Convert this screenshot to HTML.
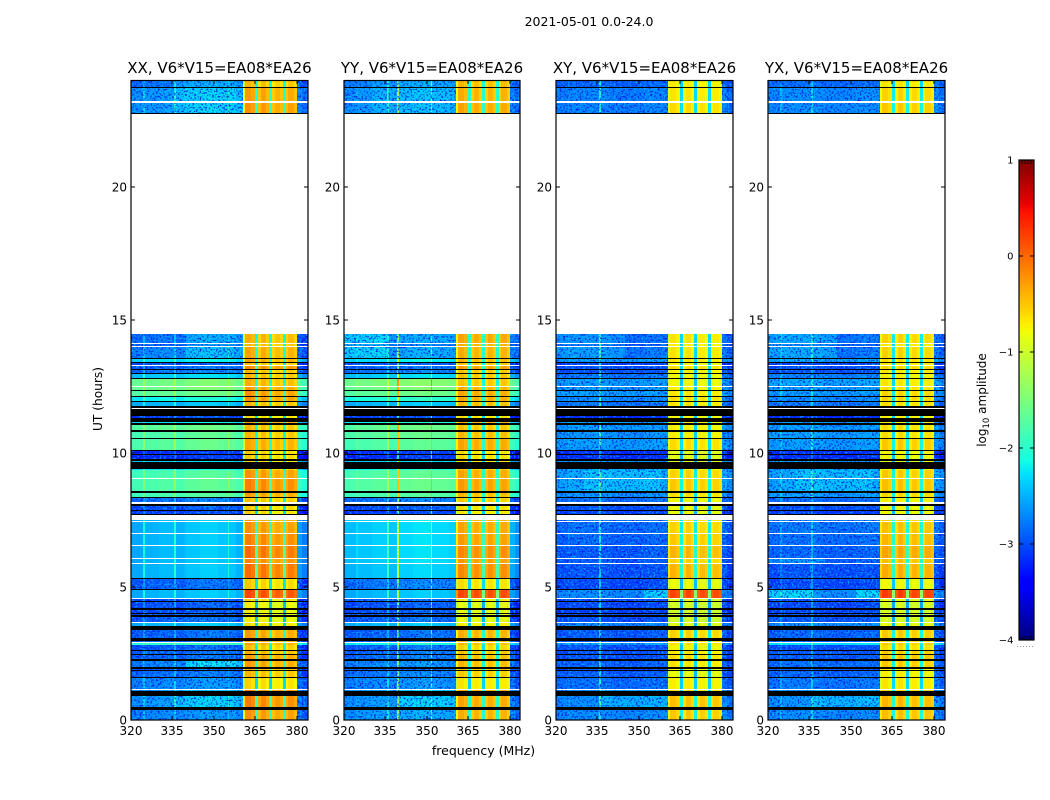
<!DOCTYPE html>
<html>
<head>
<meta charset="utf-8">
<title>Waterfall V6*V15</title>
<style>
html,body{margin:0;padding:0;background:#fff;}
svg{display:block;}
text{font-family:"DejaVu Sans","Liberation Sans",sans-serif;fill:#000;}
</style>
</head>
<body>
<svg id="chart" xmlns="http://www.w3.org/2000/svg" width="1050" height="800" viewBox="0 0 1050 800">
  <defs>
    <filter id="grainDark" x="0" y="0" width="100%" height="100%" color-interpolation-filters="sRGB">
      <feTurbulence type="fractalNoise" baseFrequency="0.55" numOctaves="1" seed="7" result="n"/>
      <feColorMatrix in="n" type="matrix" values="0 0 0 0 0  0 0 0 0 0  0 0 0 0 0  6 0 0 0 -3" result="m"/>
      <feComposite in="SourceGraphic" in2="m" operator="in"/>
    </filter>
    <filter id="grainLight" x="0" y="0" width="100%" height="100%" color-interpolation-filters="sRGB">
      <feTurbulence type="fractalNoise" baseFrequency="0.5" numOctaves="1" seed="23" result="n"/>
      <feColorMatrix in="n" type="matrix" values="0 0 0 0 0  0 0 0 0 0  0 0 0 0 0  0 6 0 0 -3.2" result="m"/>
      <feComposite in="SourceGraphic" in2="m" operator="in"/>
    </filter>
  </defs>
  <text x="589" y="26" font-size="12.5" text-anchor="middle">2021-05-01 0.0-24.0</text>
  <text transform="translate(102,399) rotate(-90)" font-size="12.2" text-anchor="middle">UT (hours)</text>
  <text x="483.5" y="755" font-size="12.5" text-anchor="middle">frequency (MHz)</text>
  <text transform="translate(986,400) rotate(-90)" font-size="12" text-anchor="middle">log<tspan font-size="8.5" dy="3">10</tspan><tspan dy="-3"> amplitude</tspan></text>
  <g id="panels"></g>
  <g id="colorbar"></g>
</svg>
<script>
// ---- time rows (UT hours, top to bottom) ----
const utEdges = [24.00,23.74,23.70,23.21,23.14,22.76,22.73,14.48,
14.14,14.10,14.04,13.99,13.58,13.54,13.43,13.37,13.33,13.29,13.16,13.13,13.01,12.96,12.83,12.79,12.53,12.49,12.38,12.32,12.15,12.11,11.96,11.93,11.76,11.70,11.66,11.40,
11.31,11.19,11.12,11.06,10.86,10.80,10.59,10.54,10.14,10.11,9.98,9.94,9.79,9.73,9.66,9.41,9.36,9.08,9.04,8.59,8.53,8.36,8.33,8.16,8.10,8.03,7.88,7.84,7.73,7.67,7.50,
7.46,7.41,7.03,6.99,6.58,6.54,6.09,6.06,5.89,5.85,5.31,5.27,4.91,4.88,4.59,4.54,4.46,4.41,4.20,4.14,4.03,3.98,3.92,3.86,3.68,3.64,3.53,3.36,3.06,2.96,2.93,2.89,2.83,2.61,2.57,2.46,2.42,2.27,2.23,1.97,1.93,1.86,1.82,1.61,1.58,1.16,1.13,1.07,0.90,0.49,0.39,0.00];
// d = data, k = flagged (black), w = no data (white)
const rowKinds = "dkdwdkw"+"dwdwdkdkdwdkdkdkdwdkdkdkdkwk"+"dkdkdkdkdkdkdkdkddwdkdkdwkdkdkw"+"dwdwdwdwdw"+"dkdk"+"dw"+"dkdkdkdk"+"dw"+"dkdk"+"dw"+"d"+"dk"+"dkdkdkdkdk"+"dw"+"dkdk"+"d";

// ---- frequency channels (MHz) ----
const freqEdges = [320,324.4,325,330,335.6,336.4,339.3,340,345,351.4,352,355,355.6,358,360.4,361.2,363.5,364.8,366,367,369,369.9,371,372,374,374.9,376,377,379,380.1,382,384.2];
const freqBand = "llllllllllllllbbbbbbbbbbbbbbbll";

// ---- log10 amplitude per data row: quiet part of the band ----
const lowXX = [-2.8,-2.6,-2.6,
-2.8,-2.9,-2.7,-2.3,-3.0,-2.9,-2.8,-2.4,-1.6,-1.6,-1.7,-2.2,-2.5,
-3.1,-2.3,-1.7,-1.8,-1.75,-3.2,-3.2,-2.4,-2.3,-1.85,
-1.8,-1.85,-2.8,
-3.0,-3.1,-2.5,-2.5,-2.5,-2.5,-2.5,-2.5,-2.9,-2.5,-3.0,
-3.0,-3.05,-3.0,-2.9,-2.5,-2.9,-2.9,-2.0,-2.95,
-2.9,-2.9,-2.7,-2.9,-2.85,-2.7,-2.6,-2.6,-2.7];
const lowYY = [-2.7,-2.6,-2.6,
-2.6,-2.8,-2.6,-2.3,-3.0,-2.9,-2.8,-2.4,-1.55,-1.6,-1.7,-2.1,-2.5,
-3.1,-2.2,-1.7,-1.75,-1.8,-3.2,-3.2,-2.4,-2.2,-1.8,
-1.75,-1.85,-2.8,
-3.0,-3.1,-2.35,-2.4,-2.4,-2.4,-2.4,-2.45,-2.8,-2.5,-2.9,
-3.0,-3.0,-3.0,-2.9,-2.5,-2.9,-2.9,-2.2,-2.9,
-2.85,-2.85,-2.7,-2.85,-2.8,-2.7,-2.55,-2.6,-2.6];
const lowXY = [-2.9,-2.75,-2.75,
-2.85,-2.95,-2.8,-2.6,-3.1,-3.0,-3.0,-2.8,-2.6,-2.6,-2.6,-2.7,-2.8,
-3.2,-2.6,-2.6,-2.65,-2.6,-3.2,-3.2,-2.6,-2.6,-2.55,
-2.55,-2.65,-2.85,
-3.0,-3.1,-2.85,-2.85,-2.9,-2.95,-2.95,-3.0,-3.05,-2.7,-3.05,
-3.05,-3.1,-3.05,-3.0,-2.7,-2.95,-2.95,-2.55,-3.0,
-3.0,-3.0,-2.9,-3.0,-2.95,-2.85,-2.7,-2.7,-2.7];
const lowYX = [-2.85,-2.7,-2.7,
-2.8,-2.95,-2.8,-2.55,-3.1,-3.0,-3.0,-2.75,-2.55,-2.6,-2.6,-2.7,-2.8,
-3.2,-2.6,-2.6,-2.6,-2.6,-3.2,-3.2,-2.6,-2.6,-2.55,
-2.55,-2.6,-2.85,
-3.0,-3.1,-2.8,-2.8,-2.85,-2.9,-2.9,-3.0,-3.05,-2.65,-3.0,
-3.05,-3.05,-3.05,-2.95,-2.65,-2.9,-2.9,-2.3,-3.0,
-2.95,-2.95,-2.85,-2.95,-2.9,-2.8,-2.65,-2.65,-2.7];

// ---- log10 amplitude per data row: bright part of the band (360-380 MHz) ----
const highXX = [-.45,-.3,-.25,
-.4,-.45,-.35,-.35,-.5,-.2,-.45,-.45,-.4,-.3,-.25,-.25,-.45,
-.6,-.3,-.45,-.45,-.35,-.55,-.55,-.6,-.5,-.25,
-.15,-.3,-.5,
-.55,-.6,-.3,-.25,-.15,-.05,-.2,-.05,-.55,.15,-.6,
-.75,-.75,-.75,-.75,-.65,-.3,-.35,-.35,-.5,
-.4,-.3,-.3,-.4,-.45,-.6,-.15,-.15,-.25];
const highYY = [-.4,-.35,-.3,
-.3,-.35,-.35,-.4,-.45,-.25,-.45,-.45,-.45,-.35,-.3,-.3,-.4,
-.6,-.35,-.45,-.4,-.3,-.6,-.6,-.6,-.5,-.3,
-.25,-.4,-.5,
-.6,-.65,-.35,-.3,-.25,-.15,-.25,-.15,-.6,.2,-.65,
-.8,-.8,-.8,-.8,-.7,-.35,-.4,-.4,-.55,
-.45,-.4,-.4,-.45,-.5,-.65,-.3,-.3,-.35];
const highXY = [-.6,-.55,-.5,
-.55,-.6,-.55,-.55,-.65,-.5,-.6,-.65,-.65,-.6,-.55,-.5,-.55,
-.65,-.6,-.6,-.6,-.5,-.75,-.75,-.75,-.65,-.45,
-.4,-.5,-.65,
-.7,-.7,-.5,-.45,-.4,-.3,-.45,-.3,-.7,.3,-.75,
-.85,-.85,-.85,-.85,-.75,-.45,-.5,-.5,-.65,
-.55,-.5,-.55,-.7,-.7,-.6,-.5,-.35,-.4];
const highYX = [-.55,-.45,-.4,
-.45,-.55,-.45,-.5,-.55,-.45,-.55,-.6,-.55,-.5,-.45,-.45,-.5,
-.6,-.55,-.5,-.5,-.4,-.65,-.65,-.7,-.6,-.4,
-.35,-.45,-.6,
-.65,-.65,-.4,-.35,-.3,-.2,-.35,-.25,-.65,.35,-.7,
-.8,-.8,-.8,-.8,-.7,-.4,-.45,-.4,-.5,
-.4,-.35,-.4,-.55,-.6,-.55,-.4,-.3,-.35];

// ---- per-channel spectral offsets (log10) ----
const shapeXX = [-.05,.35,0,.05,.45,0,.05,.1,.15,.1,.1,.35,.1,0,-.5,.05,-.05,-1.7,-.2,0,-.15,-1.7,-.25,-.1,-.2,-1.7,-.2,-.05,-.2,-.1,-.25];
const shapeYY = [-.05,.1,0,.05,.5,0,1.3,.1,.15,1.4,.1,.1,.1,.05,-.45,0,-.1,-1.7,-.2,-.05,-.2,-1.7,-.2,-.05,-.2,-1.7,-.2,-.05,-.2,-.1,-.25];
const shapeXY = [0,.1,.05,.05,.75,.05,.05,0,0,0,.05,.1,.05,.05,-.35,-.1,-.2,-1.75,-.3,-.1,-.25,-1.75,-.3,-.15,-.25,-1.75,-.3,-.15,-.25,.05,-.1];
const shapeYX = [0,.3,.05,.05,.5,.05,.05,0,0,0,.05,.1,.05,.05,-.35,-.1,-.2,-1.75,-.3,-.1,-.25,-1.75,-.3,-.15,-.25,-1.75,-.3,-.15,-.25,.05,-.1];

// ---- localised amplitude enhancements: panel, UT low, UT high, MHz low, MHz high, log10 delta ----
const enhancements = [
  [0,22.7,24,335,360.4,.2],
  [0,13.5,14.5,340,360.4,.2],
  [0,.5,1.1,335,360.4,.2],
  [0,1.95,2.25,341,360.4,.35],
  [1,22.7,24,330,360.4,.1],
  [1,13.5,14.5,320,335.6,.3],
  [1,.5,1.1,340,360.4,.2],
  [2,13.5,14.5,320,345,.2],
  [2,8.5,9.4,332,358,.15],
  [2,4.6,4.9,352,360.4,.35],
  [2,.5,1.1,335,360.4,.2],
  [3,13.5,14.5,320,345,.25],
  [3,8.5,9.4,332,358,.15],
  [3,5.85,6.1,320,340,.25],
  [3,4.6,4.9,320,335.6,.35],
  [3,4.6,4.9,352,360.4,.35],
  [3,.5,1.1,335,360.4,.2]
];

// ---- axis ticks and labels ----
const panelNames = ["XX","YY","XY","YX"];
const panelTitles = ["XX, V6*V15=EA08*EA26","YY, V6*V15=EA08*EA26","XY, V6*V15=EA08*EA26","YX, V6*V15=EA08*EA26"];
const freqTicks = [320,335,350,365,380];
const utTicks = [0,5,10,15,20];
const colorTicks = [1,0,-1,-2,-3,-4];
const colorMinor = [0.2,0.4,0.6,0.8];

const lowSeries = [lowXX,lowYY,lowXY,lowYX];
const highSeries = [highXX,highYY,highXY,highYX];
const shapeSeries = [shapeXX,shapeYY,shapeXY,shapeYX];
const panelLeft = [131,344,556,768];
const panelRight = [308,520,733,945];

const SVGNS = "http://www.w3.org/2000/svg";
const PXPERMHZ = 2.76, TOP = 80, BOTTOM = 720;
const GRAIN_LEVEL = -2.5;
function yOfUT(h){ return BOTTOM - h*(BOTTOM-TOP)/24; }
function xOfFreq(p,f){ return Math.min(panelLeft[p]+(f-320)*PXPERMHZ, panelRight[p]); }
function yOfColor(v){ return 640-(v+4)*96; }
function enhancement(p,h,f){
  let d=0;
  enhancements.forEach(function(e){
    if(e[0]===p && h>=e[1] && h<=e[2] && f>=e[3] && f<=e[4]){ d+=e[5]; }
  });
  return d;
}

function piece(t,pts){
  for(let i=1;i<pts.length;i++){
    if(t<=pts[i][0]){
      const a=pts[i-1],b=pts[i];
      return a[1]+(b[1]-a[1])*(t-a[0])/(b[0]-a[0]);
    }
  }
  return pts[pts.length-1][1];
}
function jet(v){
  const t=Math.max(0,Math.min(1,(v+4)/5));
  const r=piece(t,[[0,0],[.35,0],[.66,1],[.89,1],[1,.5]]);
  const g=piece(t,[[0,0],[.125,0],[.375,1],[.64,1],[.91,0],[1,0]]);
  const b=piece(t,[[0,.5],[.11,1],[.34,1],[.65,0],[1,0]]);
  return "rgb("+Math.round(r*255)+","+Math.round(g*255)+","+Math.round(b*255)+")";
}
function mk(parent,tag,attrs){
  const el=document.createElementNS(SVGNS,tag);
  for(const k in attrs){ el.setAttribute(k,attrs[k]); }
  parent.appendChild(el);
  return el;
}

const panelsRoot=document.getElementById("panels");
panelNames.forEach(function(name,p){
  const g=mk(panelsRoot,"g",{});
  
  
  const L=panelLeft[p],R=panelRight[p];

  const hm=mk(g,"g",{"shape-rendering":"crispEdges"});
  
  
  const grainDark=mk(g,"g",{filter:"url(#grainDark)","shape-rendering":"crispEdges",opacity:.8});
  
  
  const grainLight=mk(g,"g",{filter:"url(#grainLight)","shape-rendering":"crispEdges",opacity:.65});
  
  
  const flags=mk(g,"g",{"shape-rendering":"crispEdges"});
  
  

  let di=0;
  for(let r=0;r<rowKinds.length;r++){
    const kind=rowKinds[r];
    const y0=Math.round(yOfUT(utEdges[r])), y1=Math.round(yOfUT(utEdges[r+1]));
    const h=Math.max(1,y1-y0);
    const midUT=(utEdges[r]+utEdges[r+1])/2;
    if(kind==="k"){
      const flag=mk(flags,"rect",{x:L,y:y0,width:R-L,height:h,fill:"#000"});
      
      
    }else if(kind==="w"){
      const gap=mk(flags,"rect",{x:L,y:y0,width:R-L,height:h,fill:"#fff"});
      
      
    }else{
      for(let c=0;c<freqBand.length;c++){
        const base=freqBand[c]==="l"?lowSeries[p][di]:highSeries[p][di];
        const midF=(freqEdges[c]+freqEdges[c+1])/2;
        const x0=Math.round(xOfFreq(p,freqEdges[c])), x1=Math.round(xOfFreq(p,freqEdges[c+1]));
        const cell=mk(hm,"rect",{x:x0,y:y0,width:Math.max(1,x1-x0),height:h,fill:jet(base+shapeSeries[p][c]+enhancement(p,midUT,midF))});
        
        
      }
      if(lowSeries[p][di]<GRAIN_LEVEL){
        const bx=Math.round(xOfFreq(p,360.4)), ex=Math.round(xOfFreq(p,380.1));
        [[L,bx],[ex,R]].forEach(function(span){
          const d=mk(grainDark,"rect",{x:span[0],y:y0,width:span[1]-span[0],height:h,fill:"#0010e0"});
          
          
          const l=mk(grainLight,"rect",{x:span[0],y:y0,width:span[1]-span[0],height:h,fill:"#00b8ff"});
          
          
        });
      }
      di++;
    }
  }

  const frame=mk(g,"rect",{x:L,y:TOP+.5,width:R-L,height:BOTTOM-TOP-.5,fill:"none",stroke:"#000","stroke-width":1.2});
  
  

  const title=mk(g,"text",{x:(L+R)/2,y:73,"font-size":15,"text-anchor":"middle"});
  title.textContent=panelTitles[p];
  
  

  freqTicks.forEach(function(f){
    const x=Math.round(xOfFreq(p,f));
    const t1=mk(g,"line",{x1:x,x2:x,y1:BOTTOM,y2:BOTTOM-4,stroke:"#000","stroke-width":1});
    
    
    const t2=mk(g,"line",{x1:x,x2:x,y1:TOP,y2:TOP+4,stroke:"#000","stroke-width":1});
    
    
    const lb=mk(g,"text",{x:x,y:735,"font-size":12,"text-anchor":"middle"});
    lb.textContent=String(f);
    
    
  });
  utTicks.forEach(function(h){
    const y=Math.round(yOfUT(h));
    const t1=mk(g,"line",{x1:L,x2:L+4,y1:y,y2:y,stroke:"#000","stroke-width":1});
    
    
    const t2=mk(g,"line",{x1:R,x2:R-4,y1:y,y2:y,stroke:"#000","stroke-width":1});
    
    
    const lb=mk(g,"text",{x:L-4,y:y+4.5,"font-size":12,"text-anchor":"end"});
    lb.textContent=String(h);
    
    
  });
});

// colour bar
const cb=document.getElementById("colorbar");
const CBL=1019,CBR=1034;
const cbSteps=[];
for(let i=0;i<240;i++){ cbSteps.push(-4+(i+.5)*5/240); }
const cbRamp=mk(cb,"g",{"shape-rendering":"crispEdges"});


cbSteps.forEach(function(v){
  const s=mk(cbRamp,"rect",{x:CBL,y:yOfColor(v)-1,width:CBR-CBL,height:2.2,fill:jet(v)});
  
  
});
const cbFrame=mk(cb,"rect",{x:CBL,y:160,width:CBR-CBL,height:480,fill:"none",stroke:"#000","stroke-width":1.2});


colorTicks.forEach(function(v){
  const y=yOfColor(v);
  const a=mk(cb,"line",{x1:CBL,x2:CBL+4,y1:y,y2:y,stroke:"#000","stroke-width":1});
  
  
  const b=mk(cb,"line",{x1:CBR,x2:CBR-4,y1:y,y2:y,stroke:"#000","stroke-width":1});
  
  
  const lb=mk(cb,"text",{x:1013.5,y:y+3.5,"font-size":10,"text-anchor":"end"});
  lb.textContent=(v<0?"\u2212":"")+Math.abs(v);
  
  
});
colorMinor.forEach(function(f){
  const x=CBL+f*(CBR-CBL);
  const a=mk(cb,"line",{x1:x,x2:x,y1:160,y2:164,stroke:"#000","stroke-width":.8});
  
  
  const b=mk(cb,"line",{x1:x,x2:x,y1:640,y2:636,stroke:"#000","stroke-width":.8});
  
  
});
const cbDots=mk(cb,"line",{x1:1017,x2:1035,y1:646.5,y2:646.5,stroke:"#999","stroke-width":1,"stroke-dasharray":"1 2"});


</script>
</body>
</html>
